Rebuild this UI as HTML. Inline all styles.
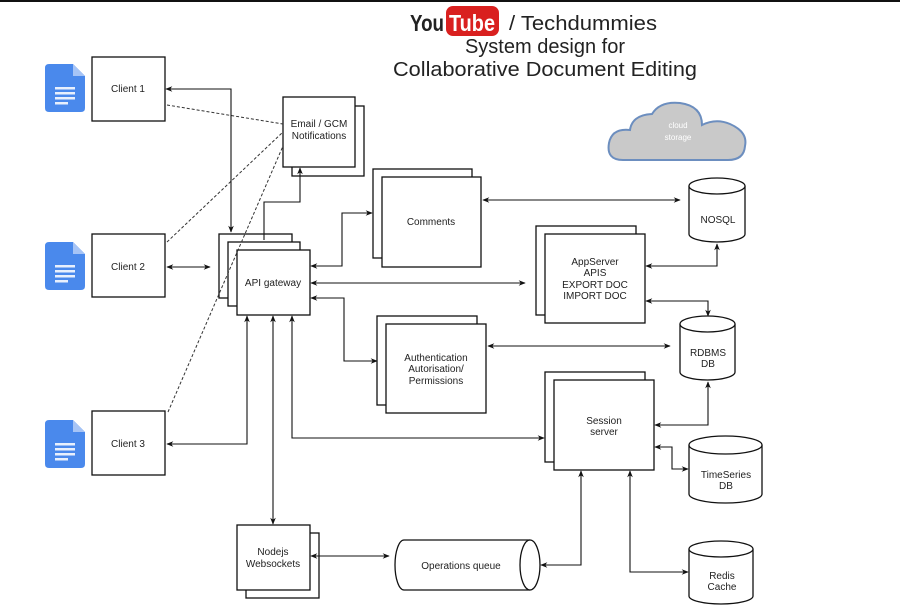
<!DOCTYPE html>
<html><head><meta charset="utf-8"><style>
html,body{margin:0;padding:0;background:#fff;}
svg{display:block;}
text{font-family:"Liberation Sans",sans-serif;fill:#222;}
</style></head><body>
<svg width="900" height="613" viewBox="0 0 900 613" xmlns="http://www.w3.org/2000/svg">
<defs>
<marker id="a" viewBox="0 0 10 10" refX="9" refY="5" markerWidth="7" markerHeight="7" orient="auto-start-reverse" markerUnits="userSpaceOnUse"><path d="M0,1 L10,5 L0,9 L3,5 z" fill="#111"/></marker>
<g id="doc"><path d="M0,4 Q0,0 4,0 L28,0 L40,12 L40,44 Q40,48 36,48 L4,48 Q0,48 0,44 z" fill="#4a89ec"/><path d="M28,0 L28,12 L40,12 z" fill="#a6c4f6"/><g fill="#e8f0fd"><rect x="10" y="23" width="20" height="2.5"/><rect x="10" y="28" width="20" height="2.5"/><rect x="10" y="33" width="20" height="2.5"/><rect x="10" y="38" width="13" height="2.5"/></g></g>
</defs>
<rect x="0" y="0" width="900" height="2" fill="#111"/>
<!-- title -->
<text x="410" y="31" font-size="23" font-weight="bold" style="fill:#222" textLength="34" lengthAdjust="spacingAndGlyphs">You</text>
<rect x="446" y="6" width="53" height="30" rx="7" fill="#d9201f"/>
<text x="449" y="31" font-size="23" font-weight="bold" style="fill:#fff" textLength="46" lengthAdjust="spacingAndGlyphs">Tube</text>
<text x="509" y="30" font-size="20" textLength="148" lengthAdjust="spacingAndGlyphs">/ Techdummies</text>
<text x="545" y="53" font-size="20" text-anchor="middle">System design for</text>
<text x="545" y="76" font-size="20" text-anchor="middle" textLength="304" lengthAdjust="spacingAndGlyphs">Collaborative Document Editing</text>
<!-- cloud -->
<path d="M623,160 Q606,160 609,143 Q612,128 630,130 Q632,115 652,114 Q660,101 680,103 Q702,106 702,125 Q716,118 730,124 Q748,132 745,146 Q744,160 728,160 Z" fill="#c9c9c9" stroke="#6c8ebf" stroke-width="2"/>
<text x="678" y="128" font-size="8" text-anchor="middle" style="fill:#fff">cloud</text>
<text x="678" y="140" font-size="8" text-anchor="middle" style="fill:#fff">storage</text>
<!-- docs -->
<use href="#doc" x="45" y="64"/><use href="#doc" x="45" y="242"/><use href="#doc" x="45" y="420"/>
<g fill="#fff" stroke="#111" stroke-width="1.3">
<rect x="92" y="57" width="73" height="64"/><rect x="92" y="234" width="73" height="63"/><rect x="92" y="411" width="73" height="64"/>
<rect x="292" y="106" width="72" height="70"/><rect x="283" y="97" width="72" height="70"/>
<rect x="219" y="234" width="73" height="64"/><rect x="228" y="242" width="72" height="64"/><rect x="237" y="250" width="73" height="65"/>
<rect x="373" y="169" width="99" height="89"/><rect x="382" y="177" width="99" height="90"/>
<rect x="536" y="226" width="100" height="89"/><rect x="545" y="234" width="100" height="89"/>
<rect x="377" y="316" width="100" height="89"/><rect x="386" y="324" width="100" height="89"/>
<rect x="545" y="372" width="100" height="90"/><rect x="554" y="380" width="100" height="90"/>
<rect x="246" y="533" width="73" height="65"/><rect x="237" y="525" width="73" height="65"/>
<!-- cylinders -->
<path d="M689,186 L689,234 A28,8 0 0 0 745,234 L745,186"/><ellipse cx="717" cy="186" rx="28" ry="8"/>
<path d="M680,324 L680,372 A27.5,8 0 0 0 735,372 L735,324"/><ellipse cx="707.5" cy="324" rx="27.5" ry="8"/>
<path d="M689,445 L689,494 A36.5,9 0 0 0 762,494 L762,445"/><ellipse cx="725.5" cy="445" rx="36.5" ry="9"/>
<path d="M689,549 L689,596 A32,8 0 0 0 753,596 L753,549"/><ellipse cx="721" cy="549" rx="32" ry="8"/>
<path d="M530,540 L404,540 A9,25 0 0 0 404,590 L530,590"/><ellipse cx="530" cy="565" rx="10" ry="25"/>
</g>
<g font-size="10" text-anchor="middle">
<text x="128" y="92">Client 1</text><text x="128" y="270">Client 2</text><text x="128" y="447">Client 3</text>
<text x="319" y="127">Email / GCM</text><text x="319" y="139">Notifications</text>
<text x="273" y="286">API gateway</text>
<text x="431" y="225">Comments</text>
<text x="595" y="265">AppServer</text><text x="595" y="276">APIS</text><text x="595" y="288">EXPORT DOC</text><text x="595" y="299">IMPORT DOC</text>
<text x="436" y="361">Authentication</text><text x="436" y="372">Autorisation/</text><text x="436" y="384">Permissions</text>
<text x="604" y="424">Session</text><text x="604" y="435">server</text>
<text x="273" y="555">Nodejs</text><text x="273" y="567">Websockets</text>
<text x="461" y="569">Operations queue</text>
<text x="718" y="223">NOSQL</text>
<text x="708" y="356">RDBMS</text><text x="708" y="367">DB</text>
<text x="726" y="478">TimeSeries</text><text x="726" y="489">DB</text>
<text x="722" y="579">Redis</text><text x="722" y="590">Cache</text>
</g>
<!-- dashed -->
<g stroke="#333" stroke-width="1" stroke-dasharray="3,2" fill="none">
<line x1="167" y1="105" x2="283" y2="124"/>
<line x1="167" y1="242" x2="283" y2="132"/>
<line x1="168" y1="412" x2="283" y2="146"/>
</g>
<!-- connectors -->
<g stroke="#111" stroke-width="1.1" fill="none" marker-end="url(#a)">
<path d="M231,232 L231,89 L166,89" marker-start="url(#a)"/>
<path d="M264,240 L264,202 L300,202 L300,168"/>
<path d="M167,267 L210,267" marker-start="url(#a)"/>
<path d="M311,266 L342,266 L342,213 L372,213" marker-start="url(#a)"/>
<path d="M311,283 L525,283" marker-start="url(#a)"/>
<path d="M311,298 L344,298 L344,361 L377,361" marker-start="url(#a)"/>
<path d="M483,200 L680,200" marker-start="url(#a)"/>
<path d="M646,266 L717,266 L717,244" marker-start="url(#a)"/>
<path d="M646,301 L708,301 L708,316" marker-start="url(#a)"/>
<path d="M488,346 L670,346" marker-start="url(#a)"/>
<path d="M655,425 L708,425 L708,382" marker-start="url(#a)"/>
<path d="M655,447 L672,447 L672,469 L688,469" marker-start="url(#a)"/>
<path d="M247,316 L247,444 L167,444" marker-start="url(#a)"/>
<path d="M273,316 L273,524" marker-start="url(#a)"/>
<path d="M292,316 L292,438 L544,438" marker-start="url(#a)"/>
<path d="M311,556 L389,556" marker-start="url(#a)"/>
<path d="M541,565 L581,565 L581,471" marker-start="url(#a)"/>
<path d="M630,471 L630,572 L688,572" marker-start="url(#a)"/>
</g>
</svg>
</body></html>
